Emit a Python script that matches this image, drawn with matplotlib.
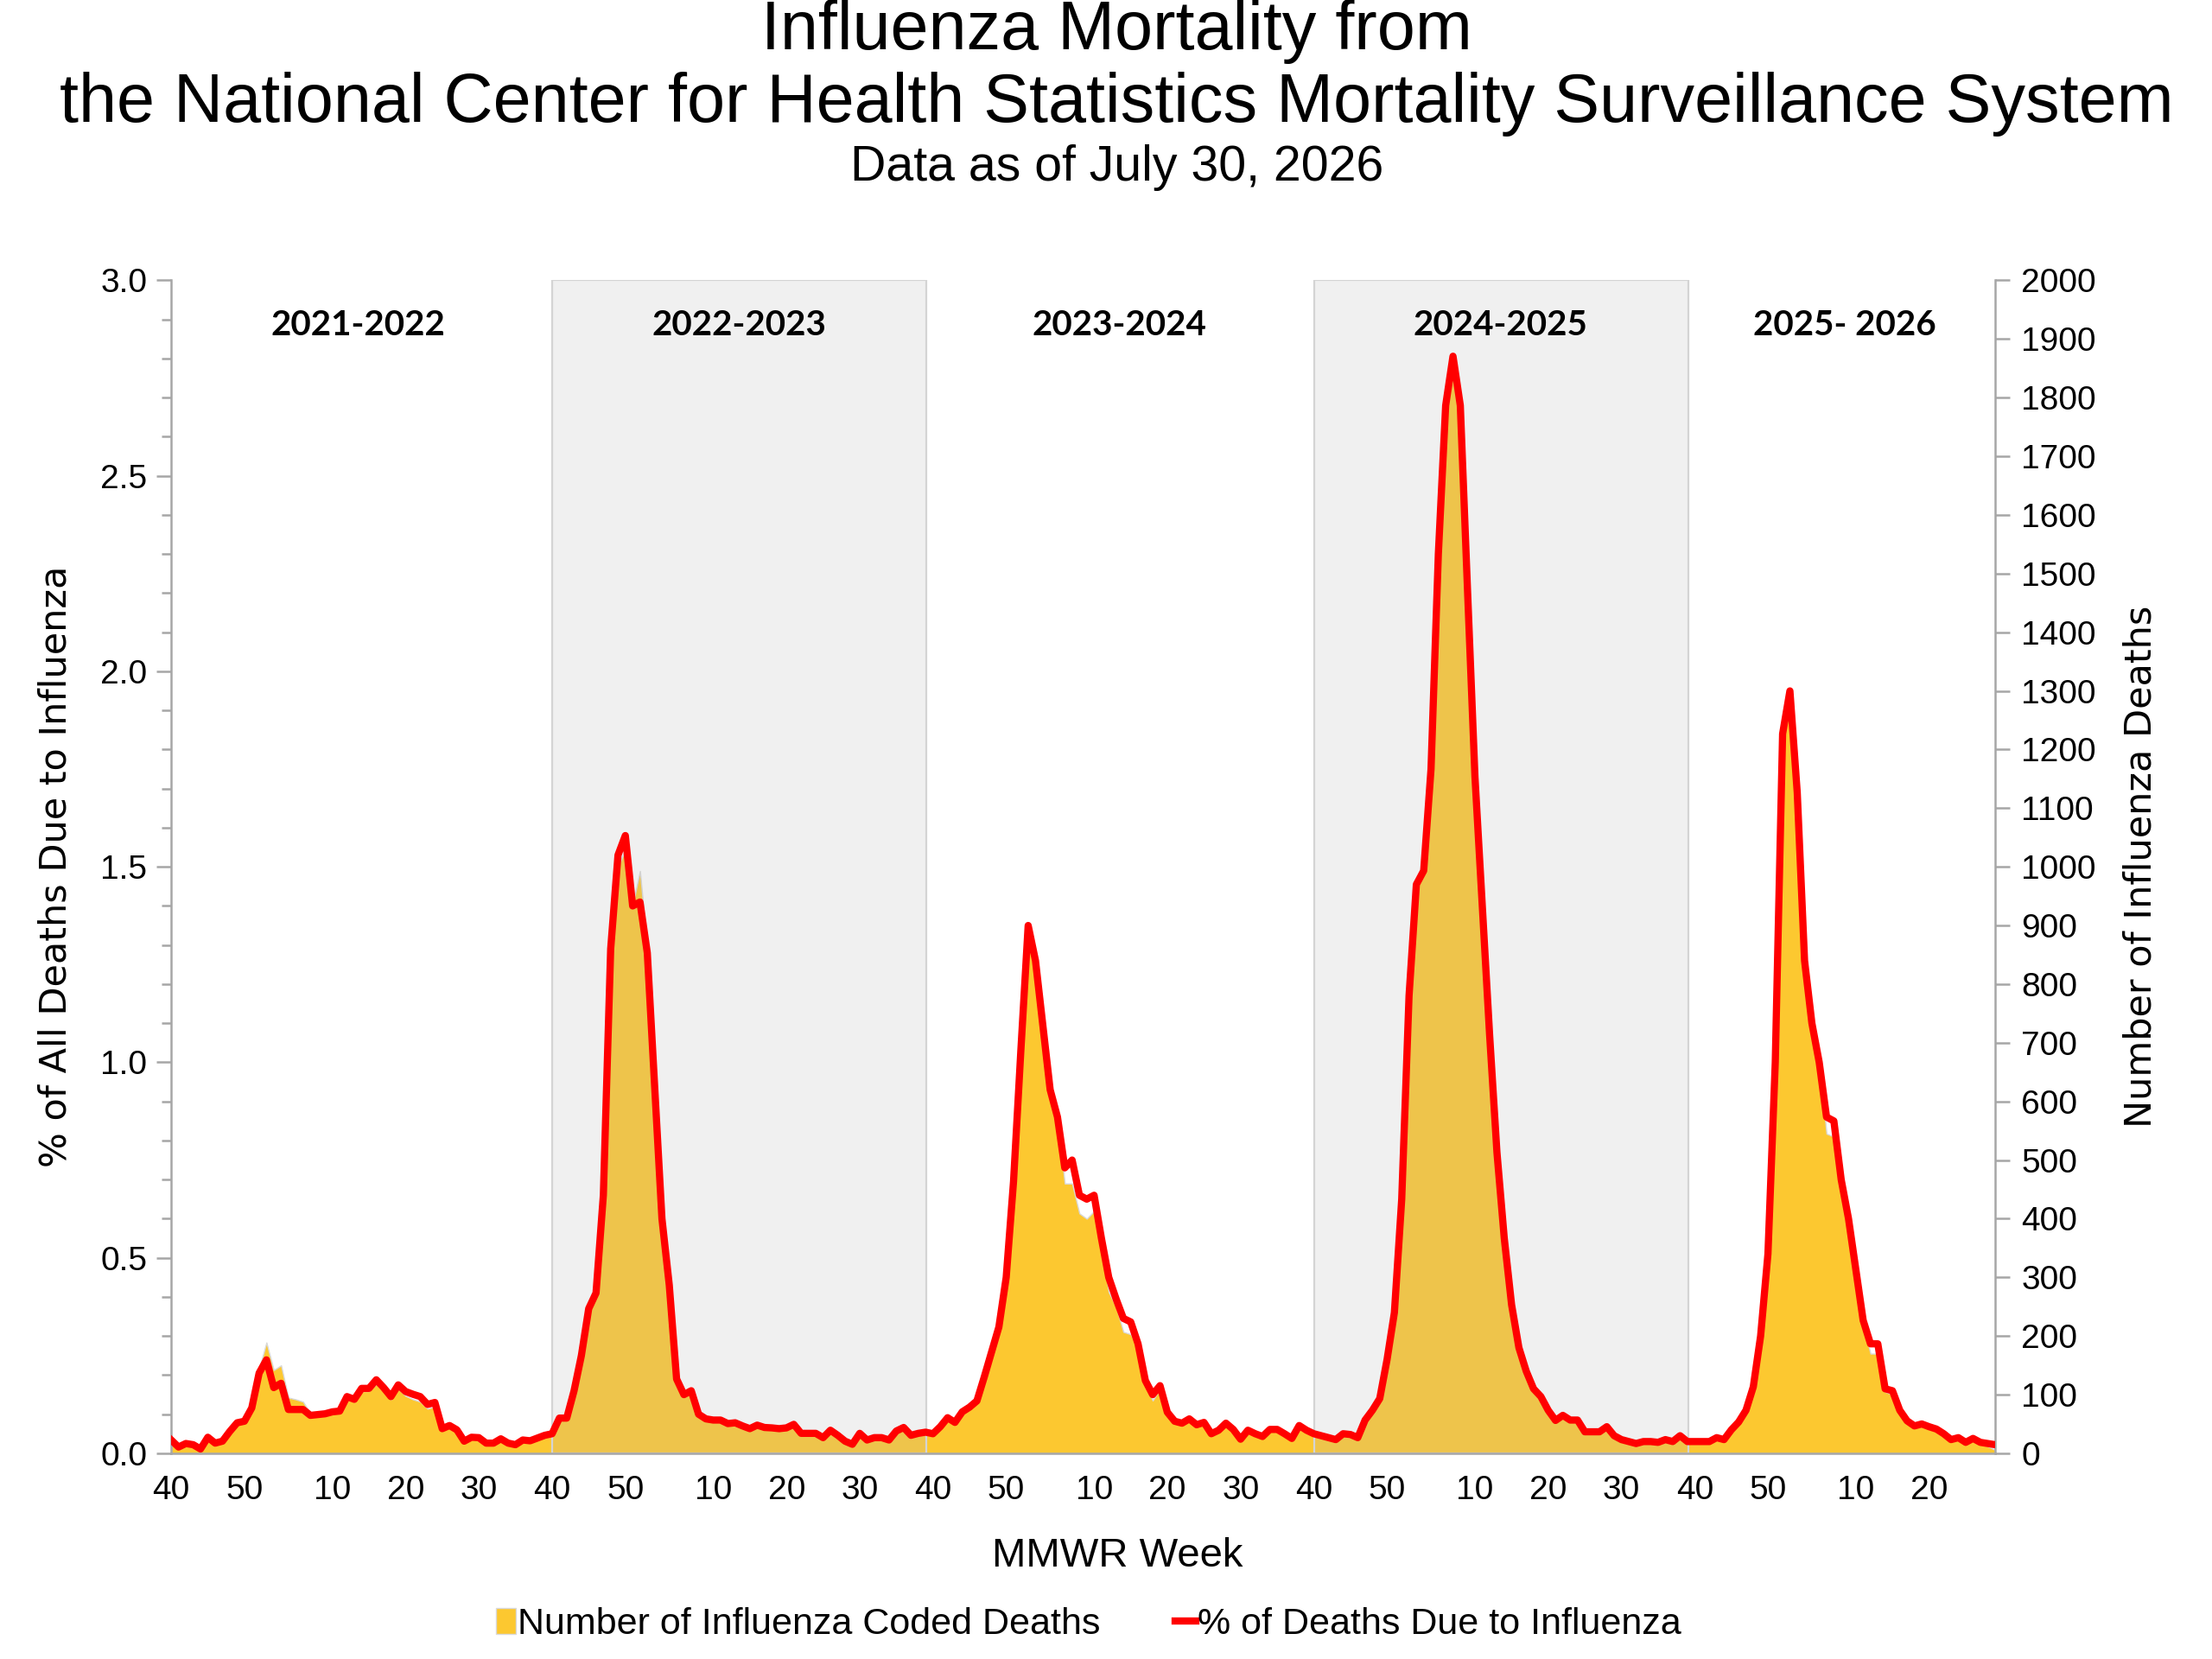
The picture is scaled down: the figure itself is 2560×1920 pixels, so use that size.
import matplotlib
matplotlib.use('Agg')
import matplotlib.pyplot as plt
from matplotlib.lines import Line2D
from matplotlib.patches import Patch
from matplotlib.ticker import MultipleLocator, FormatStrFormatter
import numpy as np

# seasons shown on the chart, weeks run from MMWR week 40 to week 39
seasons = ['2021-2022', '2022-2023', '2023-2024', '2024-2025', '2025- 2026']
shaded_seasons = ['2022-2023', '2024-2025']

# % of all deaths due to influenza (left axis)
pct_2021_22 = [0.034, 0.016, 0.025, 0.022, 0.011, 0.041, 0.026, 0.031, 0.056, 0.078,
               0.082, 0.116, 0.205, 0.239, 0.168, 0.179, 0.112, 0.112, 0.112, 0.097,
               0.099, 0.101, 0.106, 0.108, 0.145, 0.138, 0.166, 0.166, 0.188, 0.168,
               0.145, 0.175, 0.158, 0.151, 0.145, 0.125, 0.130, 0.063, 0.071, 0.060,
               0.031, 0.041, 0.040, 0.026, 0.026, 0.037, 0.026, 0.022, 0.034, 0.032,
               0.039, 0.046]
pct_2022_23 = [0.050, 0.090, 0.090, 0.160, 0.250, 0.370, 0.410, 0.660, 1.290, 1.530,
               1.580, 1.400, 1.410, 1.280, 0.940, 0.600, 0.430, 0.190, 0.150, 0.160,
               0.100, 0.088, 0.085, 0.085, 0.076, 0.078, 0.070, 0.063, 0.072, 0.066,
               0.065, 0.063, 0.065, 0.074, 0.051, 0.051, 0.051, 0.040, 0.059, 0.046,
               0.031, 0.023, 0.051, 0.034, 0.040, 0.040, 0.034, 0.057, 0.066, 0.046,
               0.051, 0.054]
pct_2023_24 = [0.050, 0.068, 0.091, 0.079, 0.106, 0.118, 0.134, 0.195, 0.259, 0.323,
               0.450, 0.695, 1.030, 1.350, 1.260, 1.095, 0.930, 0.860, 0.730, 0.750,
               0.660, 0.650, 0.660, 0.550, 0.450, 0.395, 0.345, 0.336, 0.280, 0.186,
               0.150, 0.173, 0.105, 0.082, 0.077, 0.088, 0.073, 0.079, 0.050, 0.059,
               0.077, 0.061, 0.036, 0.059, 0.050, 0.043, 0.061, 0.061, 0.050, 0.038,
               0.071, 0.059]
pct_2024_25 = [0.050, 0.045, 0.040, 0.035, 0.050, 0.048, 0.040, 0.085, 0.110, 0.140,
               0.240, 0.360, 0.650, 1.170, 1.455, 1.490, 1.750, 2.300, 2.680, 2.806,
               2.680, 2.200, 1.730, 1.400, 1.070, 0.770, 0.550, 0.380, 0.270, 0.210,
               0.165, 0.145, 0.110, 0.084, 0.097, 0.085, 0.085, 0.055, 0.055, 0.055,
               0.068, 0.045, 0.035, 0.030, 0.025, 0.030, 0.030, 0.028, 0.035, 0.030,
               0.045, 0.030]
pct_2025_26 = [0.030, 0.030, 0.030, 0.040, 0.035, 0.060, 0.080, 0.110, 0.170, 0.300,
               0.510, 1.000, 1.840, 1.950, 1.690, 1.260, 1.100, 1.000, 0.860, 0.850,
               0.700, 0.600, 0.470, 0.340, 0.280, 0.280, 0.165, 0.160, 0.110, 0.083,
               0.070, 0.075, 0.068, 0.062, 0.050, 0.035, 0.040, 0.028, 0.038, 0.028,
               0.025, 0.022]

# number of influenza coded deaths (right axis)
deaths_2021_22 = [15, 10, 14, 13, 7, 24, 15, 19, 35, 50,
                  55, 80, 144, 189, 142, 150, 95, 92, 88, 68,
                  66, 66, 70, 70, 92, 88, 106, 106, 118, 107,
                  92, 110, 98, 92, 88, 76, 80, 40, 45, 38,
                  20, 26, 26, 17, 17, 24, 17, 14, 22, 21,
                  25, 30]
deaths_2022_23 = [33, 60, 60, 107, 167, 247, 273, 440, 860, 1000,
                  1030, 935, 993, 860, 620, 400, 285, 125, 100, 105,
                  66, 58, 56, 56, 50, 52, 46, 42, 48, 44,
                  43, 42, 43, 49, 34, 34, 34, 27, 39, 31,
                  21, 15, 34, 23, 27, 27, 23, 38, 44, 31,
                  34, 36]
deaths_2023_24 = [33, 45, 61, 53, 71, 79, 89, 130, 173, 215,
                  300, 463, 687, 900, 840, 730, 620, 570, 460, 460,
                  409, 400, 413, 353, 275, 250, 207, 203, 180, 120,
                  90, 110, 67, 52, 49, 56, 46, 50, 31, 37,
                  49, 38, 22, 37, 31, 27, 38, 38, 31, 24,
                  45, 37]
deaths_2024_25 = [33, 30, 27, 23, 33, 32, 27, 57, 73, 93,
                  160, 240, 433, 780, 970, 993, 1167, 1533, 1787, 1870,
                  1787, 1467, 1153, 933, 713, 513, 367, 253, 180, 140,
                  110, 97, 73, 56, 65, 57, 57, 37, 37, 37,
                  45, 30, 23, 20, 17, 20, 20, 19, 23, 20,
                  30, 20]
deaths_2025_26 = [20, 20, 20, 27, 23, 40, 53, 73, 113, 200,
                  340, 667, 1227, 1300, 1127, 840, 733, 667, 545, 540,
                  460, 395, 310, 220, 170, 170, 105, 100, 70, 53,
                  45, 48, 44, 40, 32, 22, 26, 18, 24, 18,
                  12, 6]

full_weeks = list(range(40, 53)) + list(range(1, 40))
last_weeks = list(range(40, 53)) + list(range(1, 30))

pct_by_season = [pct_2021_22, pct_2022_23, pct_2023_24, pct_2024_25, pct_2025_26]
deaths_by_season = [deaths_2021_22, deaths_2022_23, deaths_2023_24, deaths_2024_25, deaths_2025_26]
weeks_by_season = [full_weeks, full_weeks, full_weeks, full_weeks, last_weeks]

pct = np.concatenate(pct_by_season)
deaths = np.concatenate(deaths_by_season)
weeks = np.concatenate(weeks_by_season)
x = np.arange(len(pct))

gold = '#FCC830'
red = '#FF0000'
grey_axis = '#A6A6A6'

fig = plt.figure(figsize=(12.8, 9.6), dpi=200)
ax = fig.add_axes([0.0774, 0.124, 0.8245, 0.707])
ax2 = ax.twinx()
ax.set_zorder(ax2.get_zorder() + 1)
ax.patch.set_visible(False)

# area for deaths on the right axis
ax2.fill_between(x, deaths, 0, facecolor=gold, edgecolor='#D9D9D9', linewidth=0.5, zorder=1)

# grey bands for alternating seasons, drawn over the area
start = 0
for name, vals in zip(seasons, pct_by_season):
    n = len(vals)
    if name in shaded_seasons:
        ax2.axvspan(start, start + 51.1, facecolor=(0.72, 0.72, 0.72, 0.2),
                    edgecolor='#D4D4D4', linewidth=0.8, zorder=2)
    ax.text((start + start + n - 1) / 2, 2.885, name, ha='center', va='center',
            fontsize=14.5, fontweight='bold', family='Lato')
    start += n

ax.plot(x, pct, color=red, linewidth=3.0, solid_joinstyle='round', zorder=5)

ax.set_xlim(0, len(x) - 1)
ax.set_ylim(0, 3.0)
ax2.set_ylim(0, 2000)

ax.yaxis.set_major_locator(MultipleLocator(0.5))
ax.yaxis.set_minor_locator(MultipleLocator(0.1))
ax.yaxis.set_major_formatter(FormatStrFormatter('%.1f'))
ax2.yaxis.set_major_locator(MultipleLocator(100))

tick_pos = x[weeks % 10 == 0]
ax.set_xticks(tick_pos)
ax.set_xticklabels([str(w) for w in weeks[weeks % 10 == 0]])
ax.tick_params(axis='x', length=0, pad=9, labelsize=14)
ax.tick_params(axis='y', which='major', direction='out', length=6, width=0.9,
               color=grey_axis, labelsize=14, pad=4)
ax.tick_params(axis='y', which='minor', direction='out', length=4, width=0.9, color=grey_axis)
ax2.tick_params(axis='y', direction='out', length=6, width=0.9, color=grey_axis,
                labelsize=14, pad=5)

for a in (ax, ax2):
    a.spines['top'].set_visible(False)
    for s in a.spines.values():
        s.set_color(grey_axis)
        s.set_linewidth(0.9)
ax.spines['right'].set_visible(False)
ax2.spines['left'].set_visible(False)
ax2.spines['bottom'].set_visible(False)

for lab in ax.get_xticklabels() + ax.get_yticklabels() + ax2.get_yticklabels():
    lab.set_family('Liberation Sans')

ax.set_ylabel('% of All Deaths Due to Influenza', fontsize=15.5, family='DejaVu Sans', labelpad=11)
ax2.set_ylabel('Number of Influenza Deaths', fontsize=15.5, family='DejaVu Sans', labelpad=11)

fig.text(0.505, 0.981, 'Influenza Mortality from', ha='center', va='center',
         fontsize=28.5, family='Liberation Sans')
fig.text(0.505, 0.937, 'the National Center for Health Statistics Mortality Surveillance System',
         ha='center', va='center', fontsize=28.5, family='Liberation Sans')
fig.text(0.505, 0.899, 'Data as of July 30, 2026', ha='center', va='center',
         fontsize=20.6, family='Liberation Sans')
fig.text(0.505, 0.062, 'MMWR Week', ha='center', va='center', fontsize=17, family='Liberation Sans')

handles = [Patch(facecolor=gold, edgecolor='#D9D9D9', linewidth=0.5),
           Line2D([0], [0], color=red, linewidth=3)]
fig.legend(handles, ['Number of Influenza Coded Deaths', '% of Deaths Due to Influenza'],
           loc='center', bbox_to_anchor=(0.492, 0.021), ncol=2, frameon=False,
           prop={'family': 'Liberation Sans', 'size': 15.5},
           handlelength=0.55, handleheight=0.7, handletextpad=0.05, columnspacing=2.0)

fig.savefig('out.png', dpi=200)
